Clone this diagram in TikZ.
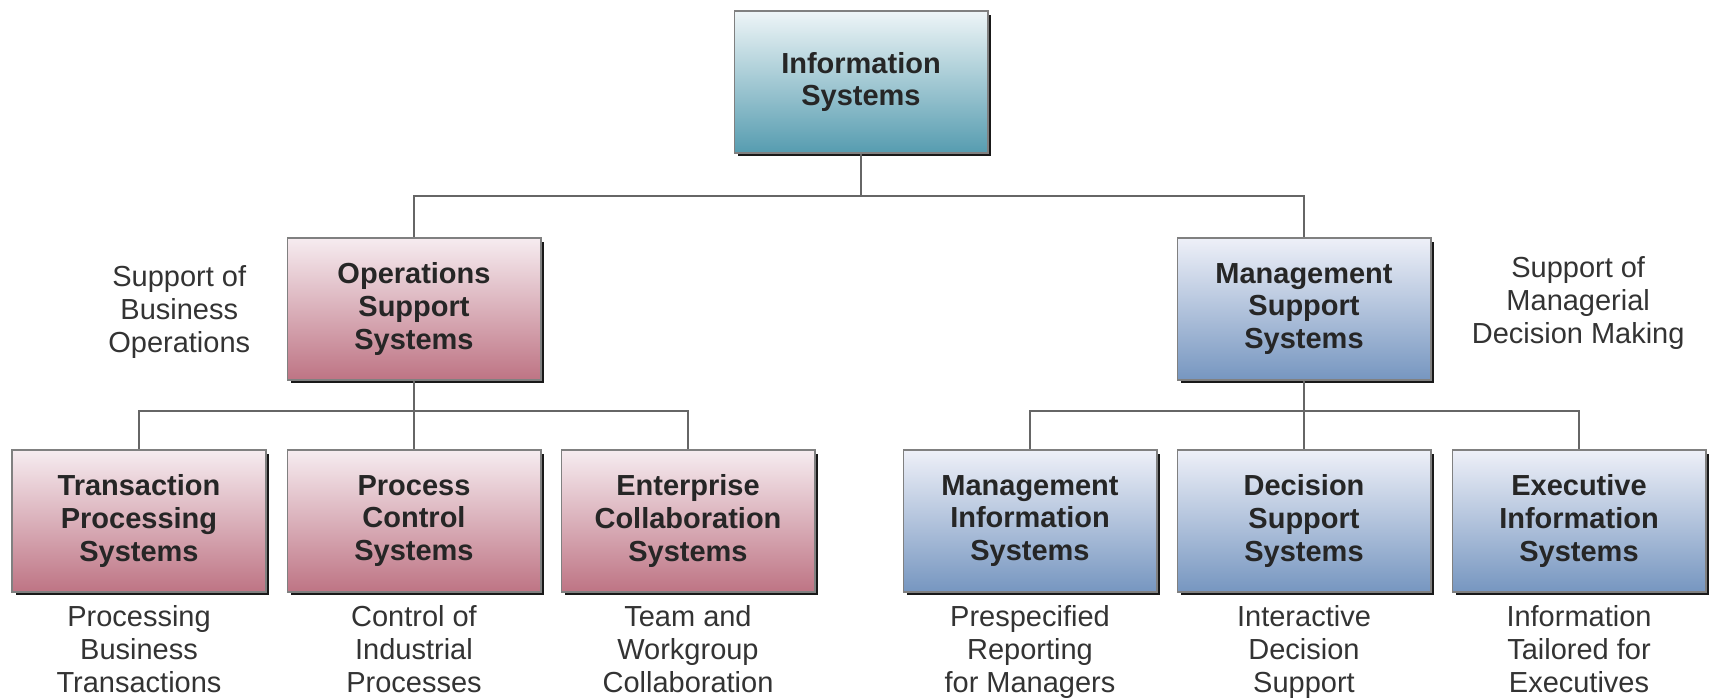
\documentclass[tikz,border=0pt]{standalone}
\usepackage{fontspec}
\setmainfont{Liberation Sans}
\usetikzlibrary{positioning,shadows}
\definecolor{isTop}{RGB}{238,245,247}
\definecolor{isBot}{RGB}{86,156,176}
\definecolor{opsTop}{RGB}{246,236,240}
\definecolor{opsBot}{RGB}{190,116,132}
\definecolor{mgmtTop}{RGB}{238,240,248}
\definecolor{mgmtBot}{RGB}{118,150,192}

\begin{document}
\begin{tikzpicture}[x=0.02cm,y=-0.02cm,
  sysbox/.style={rectangle,draw=black!50,line width=0.6pt,minimum width=5.08cm,minimum height=2.84cm,align=center,
    font=\fontsize{16.5}{18.7}\selectfont\bfseries,text=black!85,
    drop shadow={shadow xshift=0.07cm,shadow yshift=-0.07cm,fill=black!90,opacity=1}},
  topbox/.style={sysbox,top color=isTop,bottom color=isBot},
  opsbox/.style={sysbox,top color=opsTop,bottom color=opsBot},
  mgmtbox/.style={sysbox,top color=mgmtTop,bottom color=mgmtBot},
  note/.style={align=center,inner sep=0pt,font=\fontsize{16.5}{18.7}\selectfont,text=black!80},
  conn/.style={draw=black!60,line width=0.8pt}]
\useasboundingbox (0,0) rectangle (1711,697);

\node [topbox] (is) at (861,82) {Information\\Systems};

\node [opsbox] (oss) at (414,309) {Operations\\Support\\Systems};
\node [mgmtbox] (mss) at (1304,309) {Management\\Support\\Systems};

\node [opsbox] (tps) at (139,521) {Transaction\\Processing\\Systems};
\node [opsbox] (pcs) at (414,521) {Process\\Control\\Systems};
\node [opsbox] (ecs) at (688,521) {Enterprise\\Collaboration\\Systems};
\node [mgmtbox] (mis) at (1030,521) {Management\\Information\\Systems};
\node [mgmtbox] (dss) at (1304,521) {Decision\\Support\\Systems};
\node [mgmtbox] (eis) at (1579,521) {Executive\\Information\\Systems};

% side notes
\node [note,left=0.72cm of oss,yshift=-0.06cm] (opsnote) {Support of\\Business\\Operations};
\node [note,right=0.8cm of mss,yshift=0.12cm] (mgmtnote) {Support of\\Managerial\\Decision Making};

% notes under the bottom row
\node [note,below=0.26cm of tps] (tpsnote) {Processing\\Business\\Transactions};
\node [note,below=0.26cm of pcs] (pcsnote) {Control of\\Industrial\\Processes};
\node [note,below=0.26cm of ecs] (ecsnote) {Team and\\Workgroup\\Collaboration};
\node [note,below=0.26cm of mis] (misnote) {Prespecified\\Reporting\\for Managers};
\node [note,below=0.26cm of dss] (dssnote) {Interactive\\Decision\\Support};
\node [note,below=0.26cm of eis] (eisnote) {Information\\Tailored for\\Executives};

\coordinate (topbus) at (0,196);
\coordinate (lowbus) at (0,411);

\draw [conn] (is.south) |- (topbus -| oss) -- (oss.north);
\draw [conn] (is.south) |- (topbus -| mss) -- (mss.north);
\foreach \n in {tps,pcs,ecs}
  \draw [conn] (oss.south) |- (lowbus -| \n) -- (\n.north);
\foreach \n in {mis,dss,eis}
  \draw [conn] (mss.south) |- (lowbus -| \n) -- (\n.north);
\end{tikzpicture}
\end{document}
